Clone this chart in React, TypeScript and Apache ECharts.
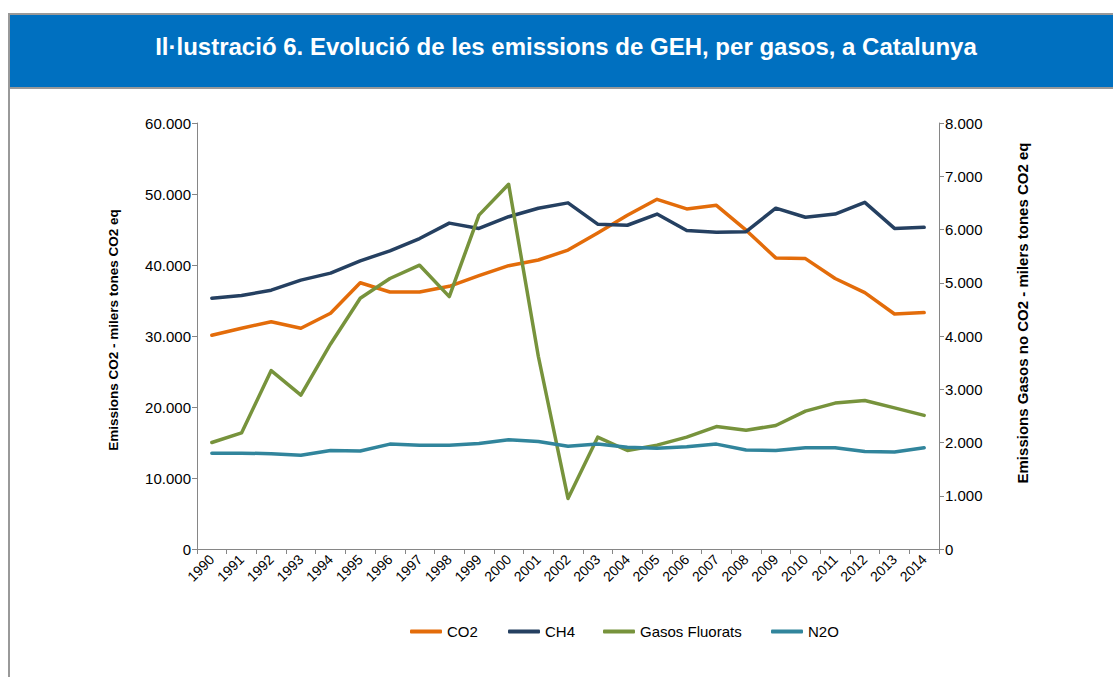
import React, { useEffect, useRef } from "react";
import * as echarts from "echarts";

const years = ["1990","1991","1992","1993","1994","1995","1996","1997","1998","1999","2000","2001","2002","2003","2004","2005","2006","2007","2008","2009","2010","2011","2012","2013","2014"];
const co2 = [30100,31100,32000,31100,33200,37500,36200,36200,37000,38500,39900,40700,42100,44500,47000,49250,47900,48400,44900,41000,40900,38100,36100,33100,33300];
const ch4 = [4710,4760,4860,5050,5180,5410,5600,5830,6120,6020,6240,6400,6500,6100,6080,6290,5980,5950,5960,6400,6230,6290,6510,6020,6040];
const fluorats = [2000,2180,3350,2890,3850,4710,5080,5330,4740,6270,6850,3620,950,2100,1850,1950,2100,2300,2230,2320,2590,2740,2790,2650,2510];
const n2o = [1800,1800,1790,1760,1850,1840,1970,1950,1950,1980,2050,2020,1930,1970,1910,1890,1920,1970,1860,1850,1900,1900,1830,1820,1900];

const seriesNames = ["CO2", "CH4", "Gasos Fluorats", "N2O"];
const seriesColors = ["#E36C0A", "#254061", "#77933C", "#31859C"];
const legendLefts = [410, 508, 603, 771];
const titleText = "Il·lustració 6. Evolució de les emissions de GEH, per gasos, a Catalunya";
const leftAxisName = "Emissions CO2 - milers tones CO2 eq";
const rightAxisName = "Emissions Gasos no CO2 - milers tones CO2 eq";

const fmt = (v: number) => String(v).replace(/\B(?=(\d{3})+(?!\d))/g, ".");
const FONT = "'Liberation Sans', Arial, sans-serif";

export default function App() {
  const ref = useRef<HTMLDivElement>(null);
  useEffect(() => {
    if (!ref.current) return;
    const chart = echarts.init(ref.current, null, { renderer: "svg" });
    const data = [co2, ch4, fluorats, n2o];
    chart.setOption({
      animation: false,
      backgroundColor: "#ffffff",
      textStyle: { fontFamily: FONT },
      graphic: [
        { type: "rect", shape: { x: 8, y: 13, width: 1110, height: 76 }, style: { fill: "#999999" }, z: 0 },
        { type: "rect", shape: { x: 10, y: 15, width: 1110, height: 72 }, style: { fill: "#0070C0" }, z: 1 },
        { type: "rect", shape: { x: 8, y: 89, width: 2, height: 600 }, style: { fill: "#999999" }, z: 1 },
        {
          type: "text",
          x: 566,
          y: 46,
          style: {
            text: titleText,
            fill: "#ffffff",
            font: "bold 24px " + FONT,
            align: "center",
            verticalAlign: "middle",
          },
          z: 2,
        },
        {
          type: "text",
          x: 113,
          y: 330,
          rotation: Math.PI / 2,
          style: {
            text: leftAxisName,
            fill: "#000",
            font: "bold 13.5px " + FONT,
            align: "center",
            verticalAlign: "middle",
          },
          z: 2,
        },
        {
          type: "text",
          x: 1022,
          y: 313,
          rotation: Math.PI / 2,
          style: {
            text: rightAxisName,
            fill: "#000",
            font: "bold 15px " + FONT,
            align: "center",
            verticalAlign: "middle",
          },
          z: 2,
        },
      ],
      legend: seriesNames.map((name, i) => ({
        left: legendLefts[i],
        top: 624,
        padding: 0,
        itemWidth: 32,
        itemHeight: 4,
        icon: "roundRect",
        textStyle: { fontSize: 15, color: "#000", fontFamily: FONT },
        data: [name],
      })),
      grid: { left: 197, right: 174, top: 123, height: 426, containLabel: false },
      xAxis: {
        type: "category",
        data: years,
        boundaryGap: true,
        axisLine: { lineStyle: { color: "#868686", width: 1 } },
        axisTick: { show: true, alignWithLabel: false, length: 5, lineStyle: { color: "#868686" } },
        axisLabel: { rotate: 45, fontSize: 14, color: "#000", fontFamily: FONT, margin: 8, interval: 0 },
      },
      yAxis: [
        {
          type: "value",
          min: 0,
          max: 60000,
          interval: 10000,
          axisLine: { show: true, lineStyle: { color: "#868686" } },
          axisTick: { show: true, length: 5, lineStyle: { color: "#868686" } },
          splitLine: { show: false },
          axisLabel: { fontSize: 15, color: "#000", fontFamily: FONT, margin: 6, formatter: (v: number) => fmt(v) },
        },
        {
          type: "value",
          min: 0,
          max: 8000,
          interval: 1000,
          position: "right",
          axisLine: { show: true, lineStyle: { color: "#868686" } },
          axisTick: { show: true, length: 5, lineStyle: { color: "#868686" } },
          splitLine: { show: false },
          axisLabel: { fontSize: 15, color: "#000", fontFamily: FONT, margin: 6, formatter: (v: number) => fmt(v) },
        },
      ],
      series: seriesNames.map((name, i) => ({
        name,
        type: "line",
        yAxisIndex: i === 0 ? 0 : 1,
        data: data[i],
        showSymbol: false,
        symbol: "none",
        lineStyle: { color: seriesColors[i], width: 3.5, cap: "round", join: "round" },
        itemStyle: { color: seriesColors[i] },
        z: 3 + i,
      })),
    });
    return () => chart.dispose();
  }, []);
  return (
    <div
      ref={ref}
      style={{ position: "absolute", left: 0, top: 0, width: 1113, height: 677 }}
    />
  );
}
